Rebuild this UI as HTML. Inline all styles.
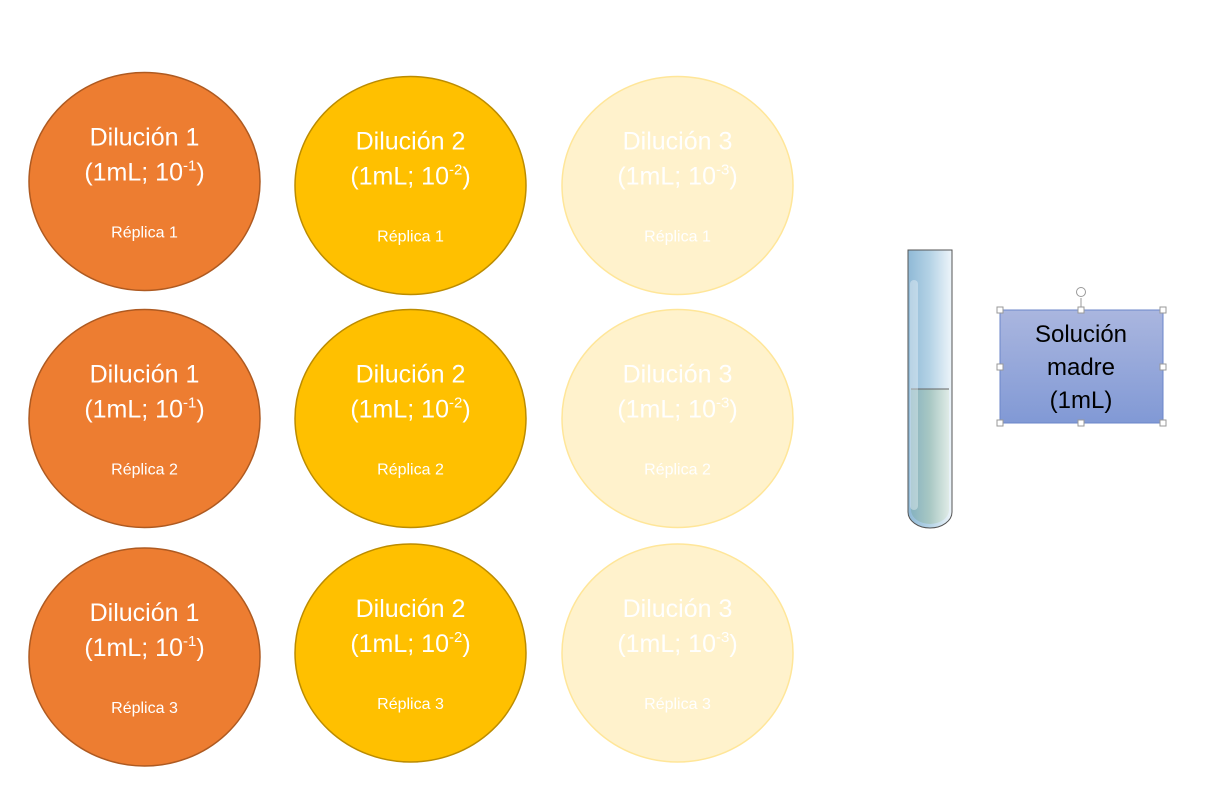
<!DOCTYPE html>
<html><head><meta charset="utf-8"><style>
html,body{margin:0;padding:0;background:#fff;}
svg{display:block;font-family:"Liberation Sans",Calibri,sans-serif;}
</style></head><body>
<svg width="1218" height="802" viewBox="0 0 1218 802">
<defs>
<linearGradient id="boxg" x1="0" y1="0" x2="0" y2="1"><stop offset="0" stop-color="#aab6df"/><stop offset="1" stop-color="#8199d5"/></linearGradient>
<linearGradient id="tubeTop" x1="0" y1="0" x2="1" y2="0"><stop offset="0" stop-color="#8fb9d6"/><stop offset="0.5" stop-color="#b5d3e6"/><stop offset="1" stop-color="#eef5fa"/></linearGradient>
<linearGradient id="tubeLiq" x1="0" y1="0" x2="1" y2="0"><stop offset="0" stop-color="#86b2bf"/><stop offset="0.5" stop-color="#a9c8c4"/><stop offset="1" stop-color="#dfebe6"/></linearGradient>
</defs>
<g id="plates"></g>
<g>
<path d="M908,250 L952,250 L952,512 A22,16 0 0 1 908,512 Z" fill="url(#tubeTop)" stroke="#555" stroke-width="1"/>
<path d="M911,389 L949,389 L949,510 A19,14 0 0 1 911,510 Z" fill="url(#tubeLiq)"/>
<line x1="911" y1="389" x2="949" y2="389" stroke="#666" stroke-width="1"/>
<rect x="910" y="280" width="8" height="230" rx="4" fill="#ffffff" opacity="0.35"/>
</g>
<g>
<rect x="1000" y="310" width="163" height="113" fill="url(#boxg)" stroke="#6b86c9" stroke-width="1"/>
<text x="1081" y="342" font-size="24" text-anchor="middle" fill="#000">Solución</text>
<text x="1081" y="375" font-size="24" text-anchor="middle" fill="#000">madre</text>
<text x="1081" y="408" font-size="24" text-anchor="middle" fill="#000">(1mL)</text>
<line x1="1081" y1="298" x2="1081" y2="310" stroke="#999"/>
<circle cx="1081" cy="292" r="4.5" fill="none" stroke="#999"/>
<g fill="#fff" stroke="#999">
<rect x="997" y="307" width="6" height="6"/><rect x="1078" y="307" width="6" height="6"/><rect x="1160" y="307" width="6" height="6"/>
<rect x="997" y="364" width="6" height="6"/><rect x="1160" y="364" width="6" height="6"/>
<rect x="997" y="420" width="6" height="6"/><rect x="1078" y="420" width="6" height="6"/><rect x="1160" y="420" width="6" height="6"/>
</g>
</g>
</svg>
<script>
const dilutions=[1,2,3];
const exponents=["-1","-2","-3"];
const replicas=[1,2,3];
const fills=["#ED7D31","#FFC000","#FFF2CC"];
const strokes=["#AE5A21","#BC8C00","#FFE699"];
const cxs=[144.5,410.5,677.5];
const cys=[[181.5,418.5,657],[185.5,418.5,653],[185.5,418.5,653]];
const NS="http://www.w3.org/2000/svg";
const g=document.getElementById('plates');
dilutions.forEach((d,i)=>{replicas.forEach((r,j)=>{
 const cx=cxs[i],cy=cys[i][j];
 const grp=document.createElementNS(NS,'g');
 
 
 const e=document.createElementNS(NS,'ellipse');
 e.setAttribute('cx',cx);e.setAttribute('cy',cy);e.setAttribute('rx',115.5);e.setAttribute('ry',109);
 e.setAttribute('fill',fills[i]);e.setAttribute('stroke',strokes[i]);e.setAttribute('stroke-width',1.5);
 grp.appendChild(e);
 const t1=document.createElementNS(NS,'text');
 t1.setAttribute('x',cx);t1.setAttribute('y',cy-36);t1.setAttribute('font-size',25);t1.setAttribute('text-anchor','middle');t1.setAttribute('fill','#fff');
 t1.textContent='Dilución '+d;grp.appendChild(t1);
 const t2=document.createElementNS(NS,'text');
 t2.setAttribute('x',cx);t2.setAttribute('y',cy-1);t2.setAttribute('font-size',25);t2.setAttribute('text-anchor','middle');t2.setAttribute('fill','#fff');
 t2.innerHTML='(1mL; 10<tspan font-size="15" dy="-10">'+exponents[i]+'</tspan><tspan dy="10">)</tspan>';
 grp.appendChild(t2);
 const t3=document.createElementNS(NS,'text');
 t3.setAttribute('x',cx);t3.setAttribute('y',cy+56);t3.setAttribute('font-size',16);t3.setAttribute('text-anchor','middle');t3.setAttribute('fill','#fff');
 t3.textContent='Réplica '+r;grp.appendChild(t3);
 g.appendChild(grp);
});});
</script>
</body></html>
